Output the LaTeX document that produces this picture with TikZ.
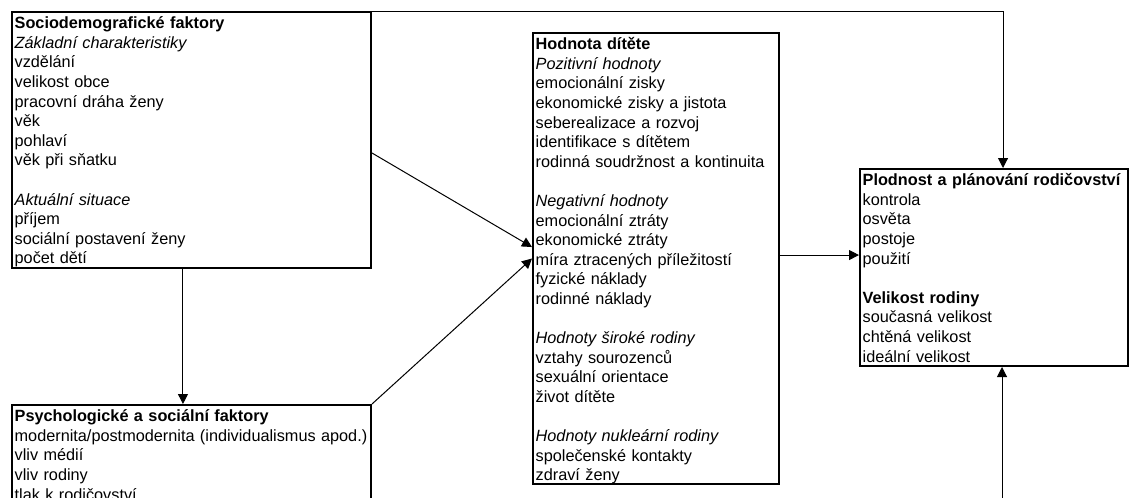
\documentclass[tikz,border=0pt]{standalone}
\usepackage{fontspec}
\setmainfont{Liberation Sans}
\usepackage{tikz}
\usetikzlibrary{arrows.meta}

\begin{document}
\begin{tikzpicture}[x=0.75pt,y=-0.75pt,
    faktor/.style={draw,line width=1.5pt,anchor=north west,align=left,
        inner xsep=2pt,inner ysep=2.5pt,text height=10pt,
        font=\fontsize{12.2}{14.7}\selectfont},
    vazba/.style={line width=0.75pt,-{Triangle[length=7.5pt,width=7.5pt]}}]
    \clip (0,0) rectangle (1130,497);
    \node[faktor,text width=265.25pt,text depth=177pt] (socio) at (11,11)
        {\textbf{Sociodemografické faktory}\\ \textit{Základní charakteristiky}\\
         vzdělání\\ velikost obce\\ pracovní dráha ženy\\ věk\\ pohlaví\\ věk při sňatku\\[14.7pt]
         \textit{Aktuální situace}\\ příjem\\ sociální postavení ženy\\ počet dětí};
    \node[faktor,text width=265.25pt,text depth=140pt] (psych) at (11,404)
        {\textbf{Psychologické a sociální faktory}\\
         modernita/postmodernita (individualismus apod.)\\
         vliv médií\\ vliv rodiny\\ tlak k rodičovství};
    \node[faktor,text width=180.5pt,text depth=323.25pt] (hodn) at (532,32)
        {\textbf{Hodnota dítěte}\\ \textit{Pozitivní hodnoty}\\ emocionální zisky\\
         ekonomické zisky a jistota\\ seberealizace a rozvoj\\ identifikace s dítětem\\
         rodinná soudržnost a kontinuita\\[14.7pt]
         \textit{Negativní hodnoty}\\ emocionální ztráty\\ ekonomické ztráty\\
         míra ztracených příležitostí\\ fyzické náklady\\ rodinné náklady\\[14.7pt]
         \textit{Hodnoty široké rodiny}\\ vztahy sourozenců\\ sexuální orientace\\
         život dítěte\\[14.7pt]
         \textit{Hodnoty nukleární rodiny}\\ společenské kontakty\\ zdraví ženy};
    \node[faktor,text width=197pt,text depth=132.75pt] (plod) at (859,168)
        {\textbf{Plodnost a plánování rodičovství}\\ kontrola\\ osvěta\\ postoje\\
         použití\\[14.7pt]
         \textbf{Velikost rodiny}\\ současná velikost\\ chtěná velikost\\ ideální velikost};
    \coordinate (zdola) at (1002,540);
    \draw[vazba] (socio.north east) -| ([xshift=6.75pt]plod.north);
    \draw[vazba] ([yshift=-9.75pt]socio.east) -- ([yshift=8.6pt]hodn.west);
    \draw[vazba] ([xshift=-6.4pt]socio.south) -- ([xshift=-6.4pt]psych.north);
    \draw[vazba] (psych.north east) -- (hodn.west);
    \draw[vazba] ([yshift=2.6pt]hodn.east) -- ([yshift=2.6pt]hodn.east -| plod.west);
    \draw[vazba] (zdola) -- (zdola |- plod.south);
\end{tikzpicture}
\end{document}
